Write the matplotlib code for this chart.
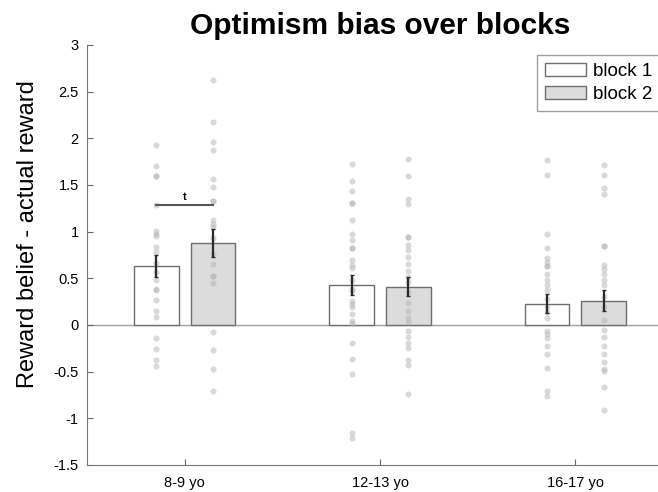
import numpy as np
import matplotlib.pyplot as plt
from matplotlib.patches import Patch

plt.rcParams['font.family'] = ['Liberation Sans', 'DejaVu Sans']

# group labels and bar values
groups = ['8-9 yo', '12-13 yo', '16-17 yo']
block_names = ['block 1', 'block 2']
means_b1 = [0.63, 0.43, 0.23]
means_b2 = [0.88, 0.41, 0.26]
sem_b1 = [0.12, 0.11, 0.10]
sem_b2 = [0.15, 0.10, 0.11]

# individual subjects (grey dots)
pts_g1_b1 = [1.93, 1.70, 1.60, 1.60, 1.29, 1.01, 0.98, 0.95, 0.84, 0.78, 0.66, 0.57,
             0.48, 0.39, 0.37, 0.27, 0.15, 0.09, -0.14, -0.26, -0.37, -0.44]
pts_g1_b2 = [2.63, 2.18, 1.96, 1.88, 1.56, 1.48, 1.33, 1.33, 1.13, 1.08, 1.05, 0.93,
             0.76, 0.65, 0.52, 0.52, 0.45, -0.08, -0.27, -0.47, -0.71]
pts_g2_b1 = [1.72, 1.54, 1.44, 1.31, 1.31, 1.13, 0.97, 0.91, 0.83, 0.83, 0.70, 0.64,
             0.61, 0.48, 0.39, 0.36, 0.26, 0.23, 0.19, 0.12, 0.04, 0.02, -0.19,
             -0.36, -0.53, -1.16, -1.21]
pts_g2_b2 = [1.78, 1.60, 1.35, 1.30, 0.94, 0.94, 0.86, 0.80, 0.73, 0.65, 0.58, 0.51,
             0.46, 0.35, 0.24, 0.15, 0.08, 0.03, -0.06, -0.13, -0.19, -0.25, -0.38,
             -0.43, -0.74]
pts_g3_b1 = [1.77, 1.61, 0.97, 0.83, 0.72, 0.67, 0.63, 0.63, 0.55, 0.48, 0.43, 0.37,
             0.28, 0.19, 0.14, 0.07, -0.06, -0.10, -0.14, -0.22, -0.31, -0.46,
             -0.71, -0.76]
pts_g3_b2 = [1.71, 1.61, 1.47, 1.40, 0.85, 0.85, 0.64, 0.60, 0.55, 0.48, 0.43, 0.30,
             0.19, 0.05, -0.05, -0.13, -0.22, -0.31, -0.40, -0.47, -0.49, -0.66, -0.91]
points_b1 = [pts_g1_b1, pts_g2_b1, pts_g3_b1]
points_b2 = [pts_g1_b2, pts_g2_b2, pts_g3_b2]

sig_level = 1.29
sig_text = 't'

fig = plt.figure(figsize=(6.58, 4.92), dpi=100)
# axes run a bit past the right edge of the figure, as in the original
ax = fig.add_axes([87 / 658, 27 / 492, 586 / 658, 420 / 492])

x = np.arange(1, len(groups) + 1)
offset = 0.145
width = 0.23
edge = '#6e6e6e'

ax.axhline(0, color='#a0a0a0', lw=1, zorder=1)

for pos, means, sems, pts, fc in [(x - offset, means_b1, sem_b1, points_b1, 'white'),
                                   (x + offset, means_b2, sem_b2, points_b2, '#dcdcdc')]:
    ax.bar(pos, means, width=width, color=fc, edgecolor=edge, linewidth=1, zorder=2)
    for p, vals in zip(pos, pts):
        ax.scatter(np.full(len(vals), p), vals, s=19, color='#b4b4b4', alpha=0.5,
                   linewidths=0, zorder=3)
    ax.errorbar(pos, means, yerr=sems, fmt='none', ecolor='#2a2a2a', elinewidth=1.6,
                capsize=1.2, capthick=1, zorder=4)

# significance bar between blocks of the youngest group
ax.plot([x[0] - offset, x[0] + offset], [sig_level, sig_level], color='#555555', lw=1.5, zorder=4)
ax.text(x[0], sig_level + 0.03, sig_text, ha='center', va='bottom', fontsize=8,
        fontweight='bold')

ax.set_xlim(0.5, 3.5)
ax.set_ylim(-1.5, 3)
ax.set_xticks(x)
ax.set_xticklabels(groups)
ax.set_yticks(np.arange(-1.5, 3.01, 0.5))
ax.set_yticklabels(['-1.5', '-1', '-0.5', '0', '0.5', '1', '1.5', '2', '2.5', '3'])
ax.tick_params(direction='in', length=4, color='#666666', labelsize=10.5, pad=6)
ax.tick_params(axis='x', pad=8)
for s in ['top', 'right']:
    ax.spines[s].set_visible(False)
for s in ['left', 'bottom']:
    ax.spines[s].set_color('#777777')

ax.set_ylabel('Reward belief - actual reward', fontsize=17)
ax.yaxis.set_label_coords(-0.082, 0.55)
ax.set_title('Optimism bias over blocks', fontsize=21.5, fontweight='bold', pad=8)

handles = [Patch(facecolor='white', edgecolor=edge), Patch(facecolor='#dcdcdc', edgecolor=edge)]
leg = ax.legend(handles, block_names, loc='upper right', bbox_to_anchor=(0.977, 0.976),
                borderaxespad=0, fontsize=13.5, fancybox=False, edgecolor='#888888',
                handlelength=2.2, handleheight=0.7, handletextpad=0.35,
                labelspacing=0.35, borderpad=0.4)
leg.get_frame().set_linewidth(1)

fig.savefig('out.png', dpi=100)
